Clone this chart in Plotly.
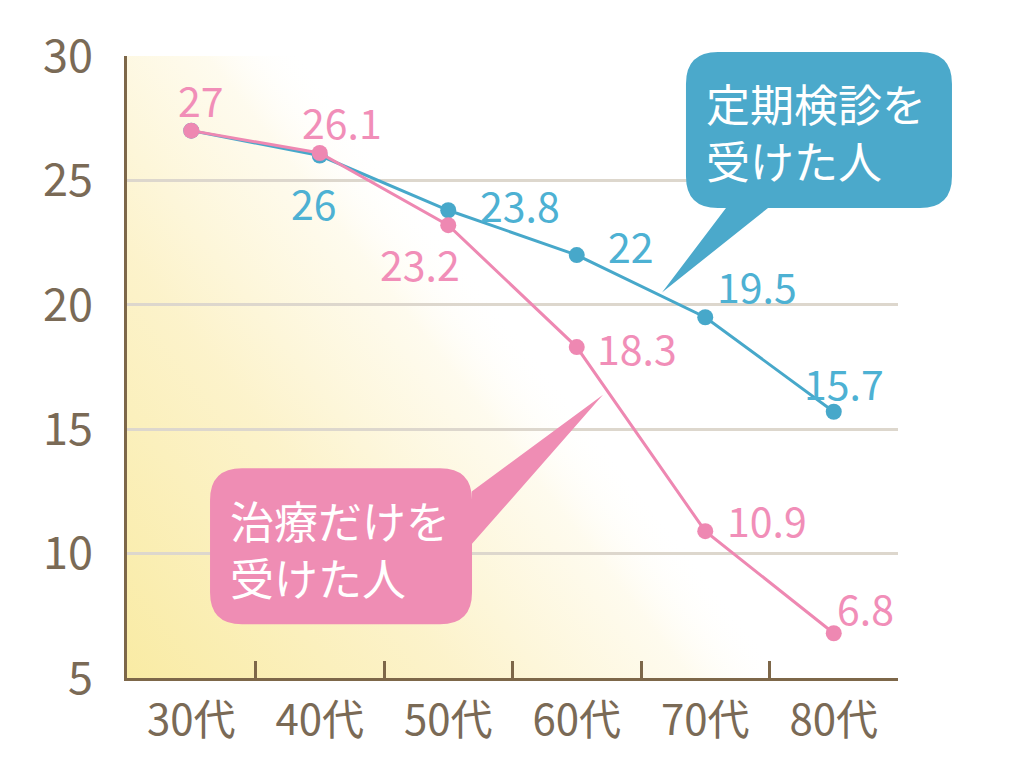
import base64

import plotly.graph_objects as go

# ---------------------------------------------------------------------------
# Data
# ---------------------------------------------------------------------------
AGE_GROUPS = ["30代", "40代", "50代", "60代", "70代", "80代"]
CHECKUP_VALUES = [27, 26, 23.8, 22, 19.5, 15.7]       # 定期検診を受けた人
TREATMENT_VALUES = [27, 26.1, 23.2, 18.3, 10.9, 6.8]  # 治療だけを受けた人
Y_TICKS = [5, 10, 15, 20, 25, 30]

# label offsets in pixels (dx, dy) relative to each point; None = no label
CHECKUP_LABEL_OFFSETS = [None, (-6, -46), (72, 6), (54, 10), (52, 32), (10, 30)]
TREATMENT_LABEL_OFFSETS = [(10, 32), (22, 32), (-28, -38), (60, 0), (62, 12), (32, 26)]

# ---------------------------------------------------------------------------
# Style
# ---------------------------------------------------------------------------
COLORS = {
    "teal": "#47A8CA",
    "teal_text": "#4DB1D3",
    "pink": "#EE88B2",
    "pink_text": "#F18EB8",
    "axis": "#7D6749",
    "tick": "#7A6A56",
    "grid": "#DDD7CD",
    "teal_box": "#4BA9CB",
    "pink_box": "#EF8DB4",
}
FONT = "Noto Sans CJK JP"

# page body adds an 8px margin; work in screen pixels and shift
OFF = 8
W, H = 1024 - OFF, 767 - OFF
L, T = 127 - OFF, 52 - OFF
R = W - (898 - OFF)
B = H - (678 - OFF)
PW, PH = W - L - R, H - T - B


def paper(px, py):
    """screen pixel -> paper coords"""
    return (px - OFF - L) / PW, (H - B - (py - OFF)) / PH


def bubble_path(x0, y0, x1, y1, r, tail):
    """Rounded box path (screen pixels) with a tail; tail = (side, a, tip, b)."""
    side, a, tip, b = tail

    def P(x, y):
        return "%.4f,%.4f" % paper(x, y)

    d = "M" + P(x0 + r, y0)
    d += " L" + P(x1 - r, y0) + " Q" + P(x1, y0) + " " + P(x1, y0 + r)
    if side == "right":
        d += " L" + P(x1, a) + " L" + P(*tip) + " L" + P(x1, b)
    d += " L" + P(x1, y1 - r) + " Q" + P(x1, y1) + " " + P(x1 - r, y1)
    if side == "bottom":
        d += " L" + P(a, y1) + " L" + P(*tip) + " L" + P(b, y1)
    d += " L" + P(x0 + r, y1) + " Q" + P(x0, y1) + " " + P(x0, y1 - r)
    d += " L" + P(x0, y0 + r) + " Q" + P(x0, y0) + " " + P(x0 + r, y0) + " Z"
    return d


# diagonal yellow wash in the lower-left of the plot area
svg = (
    f'<svg xmlns="http://www.w3.org/2000/svg" width="{PW}" height="{PH}" '
    f'viewBox="0 0 {PW} {PH}" preserveAspectRatio="none">'
    '<defs><linearGradient id="g" gradientUnits="userSpaceOnUse" '
    f'x1="0" y1="{PH}" x2="415" y2="305">'
    '<stop offset="0" stop-color="#F9EBA4" stop-opacity="1"/>'
    '<stop offset="0.5" stop-color="#FCF2C8" stop-opacity="0.95"/>'
    '<stop offset="0.85" stop-color="#FEFAEA" stop-opacity="0.8"/>'
    '<stop offset="1" stop-color="#FFFFFF" stop-opacity="0"/>'
    '</linearGradient></defs>'
    f'<rect x="0" y="0" width="{PW}" height="{PH}" fill="url(#g)"/></svg>'
)
svg_uri = "data:image/svg+xml;base64," + base64.b64encode(svg.encode()).decode()

x_idx = list(range(len(AGE_GROUPS)))

fig = go.Figure()
fig.add_trace(go.Scatter(
    x=x_idx, y=CHECKUP_VALUES, mode="lines+markers", name="定期検診を受けた人",
    line=dict(color=COLORS["teal"], width=3),
    marker=dict(size=16, color=COLORS["teal"]),
    cliponaxis=False,
))
fig.add_trace(go.Scatter(
    x=x_idx, y=TREATMENT_VALUES, mode="lines+markers", name="治療だけを受けた人",
    line=dict(color=COLORS["pink"], width=3),
    marker=dict(size=16, color=COLORS["pink"]),
    cliponaxis=False,
))

annotations = []
for vals, offs, col in (
    (CHECKUP_VALUES, CHECKUP_LABEL_OFFSETS, COLORS["teal_text"]),
    (TREATMENT_VALUES, TREATMENT_LABEL_OFFSETS, COLORS["pink_text"]),
):
    for i, (v, off) in enumerate(zip(vals, offs)):
        if off is None:
            continue
        annotations.append(dict(
            x=i, y=v, xref="x", yref="y", text=f"{v:g}", showarrow=False,
            xshift=off[0], yshift=off[1],
            font=dict(family=FONT, size=41, color=col),
        ))

# callout texts
for (px, py), txt in (((704, 128), "定期検診を<br>受けた人"), ((228, 548), "治療だけを<br>受けた人")):
    xp, yp = paper(px, py)
    annotations.append(dict(
        x=xp, y=yp, xref="paper", yref="paper", text=txt, showarrow=False,
        xanchor="left", yanchor="middle", align="left",
        font=dict(family=FONT, size=44, color="white"),
    ))

shapes = [
    dict(type="path", xref="paper", yref="paper", layer="above", line_width=0,
         fillcolor=COLORS["teal_box"],
         path=bubble_path(686, 48, 952, 205, 32, ("bottom", 768, (662, 290), 726))),
    dict(type="path", xref="paper", yref="paper", layer="above", line_width=0,
         fillcolor=COLORS["pink_box"],
         path=bubble_path(210, 467, 472, 624, 32, ("right", 490, (603, 393), 543))),
]

fig.update_layout(
    width=W, height=H,
    margin=dict(l=L, r=R, t=T, b=B),
    paper_bgcolor="white",
    plot_bgcolor="rgba(0,0,0,0)",
    showlegend=False,
    font=dict(family=FONT, color=COLORS["tick"]),
    images=[dict(source=svg_uri, xref="paper", yref="paper", x=0, y=1,
                 sizex=1, sizey=1, sizing="stretch", xanchor="left",
                 yanchor="top", layer="below")],
    xaxis=dict(
        range=[-0.5, len(AGE_GROUPS) - 0.5],
        tickvals=x_idx, ticktext=AGE_GROUPS,
        tickfont=dict(family=FONT, size=42, color=COLORS["tick"]),
        ticks="", showgrid=False, zeroline=False,
        showline=True, linecolor=COLORS["axis"], linewidth=3,
        ticklabelstandoff=4,
        minor=dict(tickvals=[i + 0.5 for i in x_idx[:-1]], ticks="inside",
                   ticklen=17, tickwidth=3, tickcolor=COLORS["axis"],
                   showgrid=False),
    ),
    yaxis=dict(
        range=[Y_TICKS[0], Y_TICKS[-1]],
        tickvals=Y_TICKS,
        tickfont=dict(family=FONT, size=45, color=COLORS["tick"]),
        ticks="", showgrid=True, gridcolor=COLORS["grid"], gridwidth=3,
        zeroline=False, showline=True, linecolor=COLORS["axis"], linewidth=3,
        ticklabelstandoff=22,
    ),
    annotations=annotations,
    shapes=shapes,
)

fig.write_html("out.html")
